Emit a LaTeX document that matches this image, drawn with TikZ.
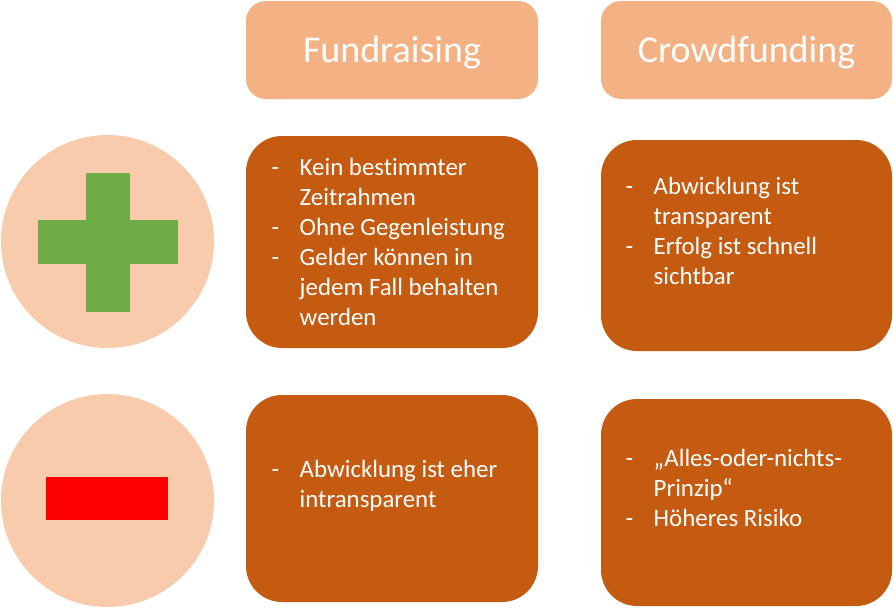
\documentclass[tikz,border=0pt]{standalone}
\usepackage{fontspec}
\setmainfont{Carlito}[Ligatures=NoCommon]
\usepackage{array}
\definecolor{headfill}{HTML}{F4B183}
\definecolor{bodyfill}{HTML}{C55A11}
\definecolor{roundfill}{HTML}{F8CBAD}
\definecolor{plusgreen}{HTML}{70AD47}
\tikzset{
  headbox/.style={draw=none,fill=headfill,rounded corners=.2cm,minimum width=2.92cm,minimum height=.98cm,text=white,font=\fontsize{10.8}{13}\selectfont,inner sep=0,text height=.25cm,text depth=0pt},
  bodybox/.style={draw=none,fill=bodyfill,rounded corners=.36cm,minimum width=2.92cm,inner sep=0},
  bodytext/.style={text=white,inner sep=0,anchor=north west,align=left,font=\fontsize{7.08}{8.54}\selectfont},
  signround/.style={circle,draw=none,fill=roundfill,minimum size=2.13cm,inner sep=0}
}
\newcommand{\dashcols}[1]{\begin{tabular}{@{}p{.28cm}@{}l@{}}#1\end{tabular}}
\begin{document}
\begin{tikzpicture}
\useasboundingbox(0,0)rectangle(8.93,6.08);
%headers
\node[headbox](fund)at(3.92,5.58){Fundraising};
\node[headbox,minimum width=2.91cm](crowd)at(7.465,5.58){Crowdfunding};
%boxes
\node[bodybox,minimum height=2.12cm](fundplus)at(3.92,3.66){};
\node[bodybox,minimum width=2.91cm,minimum height=2.11cm](crowdplus)at(7.465,3.625){};
\node[bodybox,minimum height=2.07cm](fundminus)at(3.92,1.095){};
\node[bodybox,minimum width=2.91cm,minimum height=2.07cm](crowdminus)at(7.465,1.055){};
%signs
\node[signround](plus)at(1.075,3.665){};
\node[signround](minus)at(1.075,1.075){};
\fill[plusgreen](.383,3.437)rectangle(1.777,3.88);
\fill[plusgreen](.86,2.963)rectangle(1.30,4.353);
\fill[red](.46,.88)rectangle(1.68,1.31);
%texts
\node[bodytext](fundplustext)at(2.71,4.54){\dashcols{-&Kein bestimmter\\&Zeitrahmen\\-&Ohne Gegenleistung\\-&Gelder können in\\&jedem Fall behalten\\&werden}};
\node[bodytext](crowdplustext)at(6.25,4.35){\dashcols{-&Abwicklung ist\\&transparent\\-&Erfolg ist schnell\\&sichtbar}};
\node[bodytext](fundminustext)at(2.71,1.52){\dashcols{-&Abwicklung ist eher\\&intransparent}};
\node[bodytext](crowdminustext)at(6.25,1.635){\dashcols{-&„Alles-oder-nichts-\\&Prinzip“\\-&Höheres Risiko}};
\end{tikzpicture}
\end{document}
